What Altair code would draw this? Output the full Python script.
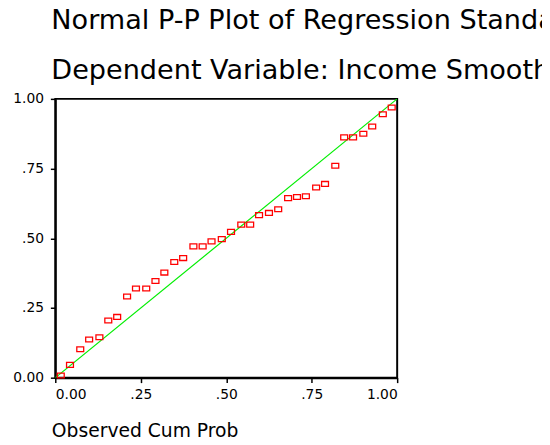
import altair as alt
import pandas as pd

# Observed cumulative probability (x) and expected cumulative probability (y)
observed = [0.016, 0.043, 0.073, 0.099, 0.129, 0.155, 0.181, 0.210, 0.236, 0.266,
            0.293, 0.319, 0.348, 0.374, 0.404, 0.431, 0.457, 0.487, 0.514, 0.544,
            0.570, 0.596, 0.625, 0.652, 0.681, 0.707, 0.733, 0.763, 0.789, 0.819,
            0.845, 0.871, 0.901, 0.927, 0.958, 0.984]
expected = [0.008, 0.046, 0.102, 0.137, 0.145, 0.205, 0.218, 0.291, 0.320, 0.320,
            0.347, 0.377, 0.415, 0.429, 0.471, 0.471, 0.489, 0.497, 0.523, 0.549,
            0.549, 0.583, 0.591, 0.604, 0.644, 0.648, 0.651, 0.682, 0.695, 0.760,
            0.862, 0.862, 0.875, 0.901, 0.945, 0.969]

ref_line_x = [0.0, 1.0]
ref_line_y = [0.0, 1.0]

tick_values = [0.0, 0.25, 0.5, 0.75, 1.0]
tick_labels = ["0.00", ".25", ".50", ".75", "1.00"]

title_lines = ["Normal P-P Plot of Regression Standardized Residual",
               "Dependent Variable: Income Smoothing"]
x_title = "Observed Cum Prob"

pts = pd.DataFrame({"obs": observed, "exp": expected})
line_df = pd.DataFrame({"obs": ref_line_x, "exp": ref_line_y})

label_expr = " : ".join(
    [f"datum.value == {v} ? '{l}'" for v, l in zip(tick_values, tick_labels)]
) + " : ''"

FONT = "DejaVu Sans"

xscale = alt.Scale(domain=[0, 1], nice=False, zero=False)
yscale = alt.Scale(domain=[0, 1], nice=False, zero=False)

xaxis = alt.Axis(values=tick_values, labelExpr=label_expr, title=x_title,
                 grid=False, domainColor="black", domainWidth=2,
                 tickColor="black", tickSize=5, tickWidth=1.5,
                 labelFont=FONT, labelFontSize=14, labelColor="black", labelPadding=5,
                 titleFont=FONT, titleFontSize=19, titleFontWeight="normal",
                 titleColor="black", titleAnchor="start", titleAlign="left",
                 titleBaseline="alphabetic", titleX=-4, titleY=60)
yaxis = alt.Axis(values=tick_values, labelExpr=label_expr, title=None,
                 grid=False, domainColor="black", domainWidth=2,
                 tickColor="black", tickSize=5, tickWidth=1.5,
                 labelFont=FONT, labelFontSize=14, labelColor="black", labelPadding=7)

line = alt.Chart(line_df).mark_line(color="#00ee00", strokeWidth=1.2, clip=True).encode(
    x=alt.X("obs:Q", scale=xscale, axis=xaxis),
    y=alt.Y("exp:Q", scale=yscale, axis=yaxis),
)

points = alt.Chart(pts).mark_point(
    shape="M-1,-0.7L1,-0.7L1,0.7L-1,0.7Z", size=49, filled=False,
    color="#ff0000", strokeWidth=1.3, opacity=1,
).encode(
    x=alt.X("obs:Q", scale=xscale),
    y=alt.Y("exp:Q", scale=yscale),
)

chart = alt.layer(line, points).properties(
    width=347, height=283,
    title=alt.TitleParams(text=title_lines, anchor="start", frame="group",
                          font=FONT, fontSize=27.5, fontWeight="normal", color="black",
                          lineHeight=50, baseline="bottom", offset=22, dx=-4, dy=42),
    autosize=alt.AutoSizeParams(type="none"),
    padding={"left": 48, "top": 89, "right": 147, "bottom": 60},
).configure_view(stroke="black", strokeWidth=2)

chart.save("out.html", embed_options={"renderer": "svg", "actions": False})
